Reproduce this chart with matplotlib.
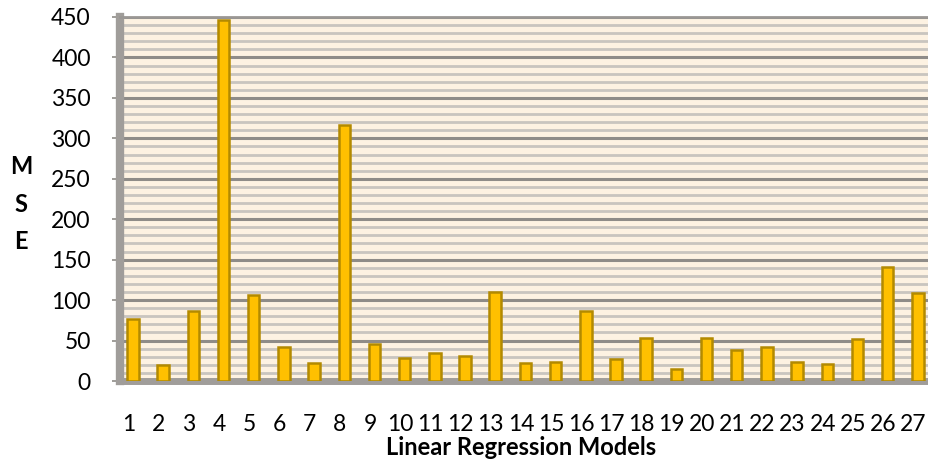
import numpy as np
import matplotlib.pyplot as plt
import matplotlib.transforms as mtransforms
from matplotlib.ticker import MultipleLocator

models = list(range(1, 28))
mse = [77, 20, 86, 446, 106, 42, 22, 316, 46, 29, 35, 31, 110,
       22, 24, 87, 27, 53, 15, 53, 38, 42, 24, 21, 52, 141, 109]
y_ticks = [0, 50, 100, 150, 200, 250, 300, 350, 400, 450]

plt.rcParams['font.family'] = ['Lato', 'DejaVu Sans']

fig = plt.figure(figsize=(9.29, 4.72), dpi=100)
ax = fig.add_axes([120 / 929, 91 / 472, 809 / 929, 364 / 472])
ax.set_facecolor('#FDF2E2')

# gridlines: minor every 10, major every 50
ax.yaxis.set_minor_locator(MultipleLocator(10))
ax.grid(axis='y', which='minor', color='#C9C5BF', linewidth=2.0, zorder=0)
ax.grid(axis='y', which='major', color='#8F8C88', linewidth=2.2, zorder=0)
ax.grid(axis='x', visible=False)

ax.bar(models, mse, width=0.38, color='#FFC000', edgecolor='#B38A00',
       linewidth=1.8, zorder=3)

ax.set_xlim(0.57, 27.37)
ax.set_ylim(0, 450)
ax.set_yticks(y_ticks)
ax.set_xticks(models)
ax.set_xticklabels([str(m) for m in models])

ax.spines['right'].set_visible(False)
ax.spines['top'].set_color('#9A9794')
ax.spines['top'].set_linewidth(2)
ax.spines['left'].set_color('#A09D9A')
ax.spines['left'].set_linewidth(6)
ax.spines['bottom'].set_color('#A09D9A')
ax.spines['bottom'].set_linewidth(5)

ax.tick_params(axis='y', which='major', length=6, width=1.2, color='#8F8C88',
               pad=15, labelsize=16.5)
ax.tick_params(axis='y', which='minor', length=0)
ax.tick_params(axis='x', length=0, pad=23.5, labelsize=16.5)

# labels in the 3D original sit a little left of the bars
shift = mtransforms.ScaledTranslation(-4.5 / 100, 0, fig.dpi_scale_trans)
for lbl in ax.get_xticklabels():
    lbl.set_transform(lbl.get_transform() + shift)

fig.text(521 / 929, 1 - 455 / 472, 'Linear Regression Models', ha='center',
         va='baseline', fontsize=17, fontweight='bold')
fig.text(21 / 929, 1 - 204 / 472, 'M\nS\nE', ha='center', va='center',
         fontsize=17, fontweight='bold', linespacing=1.75)

fig.savefig('out.png', dpi=100)
